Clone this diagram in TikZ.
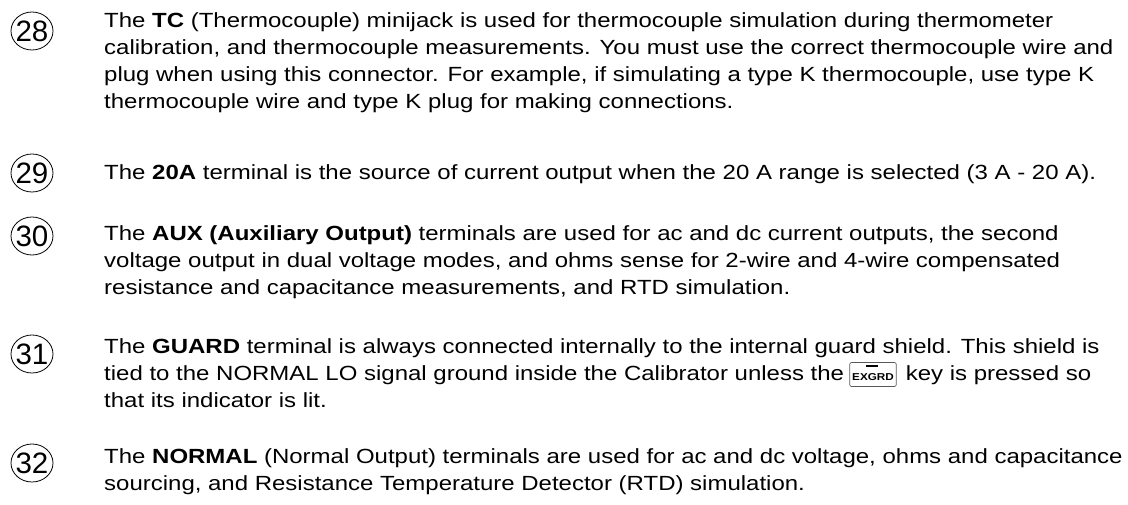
\documentclass[tikz,border=0pt]{standalone}
\usepackage{fontspec}
\setmainfont[FakeStretch=1.17]{Liberation Sans}
\newfontfamily\numfont{Liberation Sans}
\usetikzlibrary{calc}
\tikzset{
  txt/.style={anchor=base west, inner sep=0pt, font=\fontsize{20.5}{27}\selectfont},
  num/.style={inner sep=0pt, font=\numfont\fontsize{29.5}{30}\selectfont},
  ring/.style={line width=0.8pt},
  keybox/.style={draw=black!65, line width=0.7pt, rounded corners=2pt, anchor=base west, inner xsep=2.5pt, inner ysep=0pt, text height=17.5pt, text depth=6.5pt, font=\fontsize{10}{10}\selectfont\bfseries}
}
\begin{document}
\begin{tikzpicture}[x=1pt,y=-1pt]
\useasboundingbox (0,0) rectangle (1128,504);
% paragraph 28
\node[num] (c28) at (32,31) {28};
\draw[ring] (c28.center) ellipse [x radius=21, y radius=19];
\node[txt] (p28a) at (104,27) {The \textbf{TC} (Thermocouple) minijack is used for thermocouple simulation during thermometer};
\node[txt] (p28b) at (104,54) {calibration, and thermocouple measurements. You must use the correct thermocouple wire and};
\node[txt] (p28c) at (104,81) {plug when using this connector. For example, if simulating a type K thermocouple, use type K};
\node[txt] (p28d) at (104,108) {thermocouple wire and type K plug for making connections.};
% paragraph 29
\node[num] (c29) at (32,173) {29};
\draw[ring] (c29.center) ellipse [x radius=21, y radius=19];
\node[txt] (p29a) at (104,179) {The \textbf{20A} terminal is the source of current output when the 20 A range is selected (3 A - 20 A).};
% paragraph 30
\node[num] (c30) at (32,236) {30};
\draw[ring] (c30.center) ellipse [x radius=21, y radius=19];
\node[txt] (p30a) at (104,240) {The \textbf{AUX (Auxiliary Output)} terminals are used for ac and dc current outputs, the second};
\node[txt] (p30b) at (104,267) {voltage output in dual voltage modes, and ohms sense for 2-wire and 4-wire compensated};
\node[txt] (p30c) at (104,294) {resistance and capacitance measurements, and RTD simulation.};
% paragraph 31
\node[num] (c31) at (32,354) {31};
\draw[ring] (c31.center) ellipse [x radius=21, y radius=19];
\node[txt] (p31a) at (104,353) {The \textbf{GUARD} terminal is always connected internally to the internal guard shield. This shield is};
\node[txt] (p31b) at (104,380) {tied to the NORMAL LO signal ground inside the Calibrator unless the};
\node[keybox] (exgrd) at ($(p31b.base east)+(5,0)$) {EX\rlap{\hspace{-1.5pt}\raisebox{13.5pt}{\rule{12pt}{1.8pt}}}GRD};
\node[txt] (p31c) at ($(exgrd.base east)+(9,0)$) {key is pressed so};
\node[txt] (p31d) at (104,407) {that its indicator is lit.};
% paragraph 32
\node[num] (c32) at (32,463) {32};
\draw[ring] (c32.center) ellipse [x radius=21, y radius=19];
\node[txt] (p32a) at (104,463) {The \textbf{NORMAL} (Normal Output) terminals are used for ac and dc voltage, ohms and capacitance};
\node[txt] (p32b) at (104,490) {sourcing, and Resistance Temperature Detector (RTD) simulation.};
\end{tikzpicture}
\end{document}
